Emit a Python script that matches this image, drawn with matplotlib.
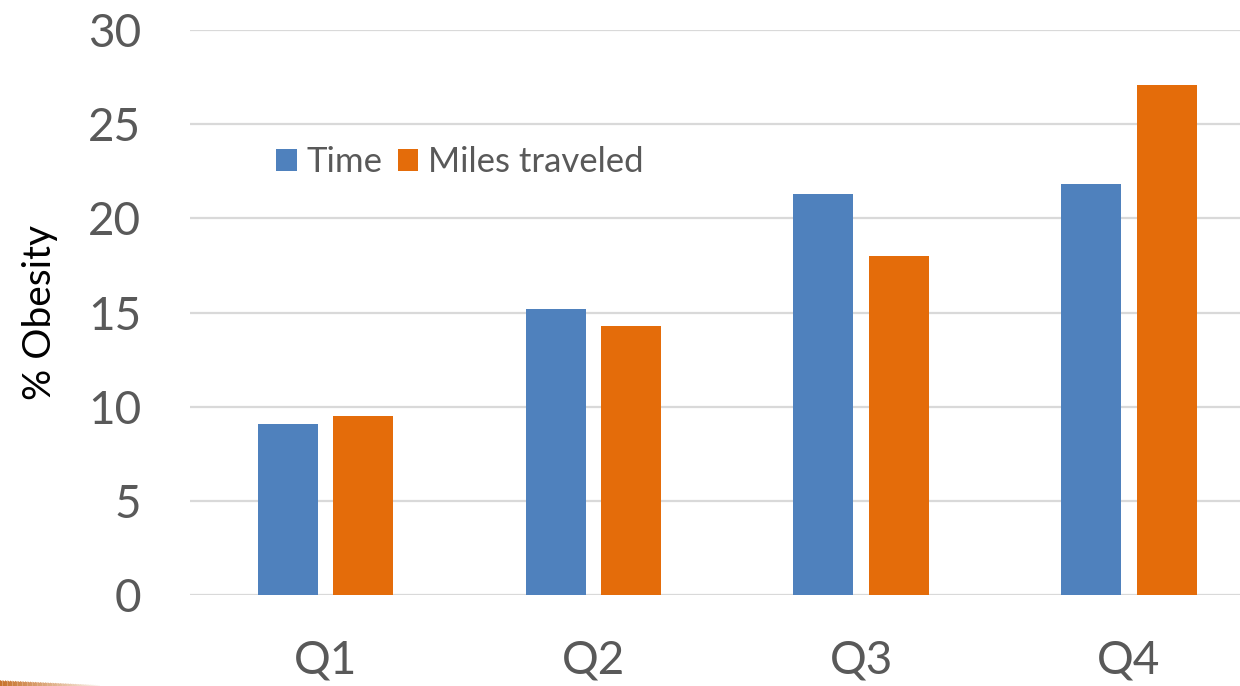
import matplotlib
matplotlib.use("Agg")
import matplotlib.pyplot as plt
import numpy as np
from matplotlib.patches import Polygon

# Obesity share by quartile of commute time / miles traveled
categories = ["Q1", "Q2", "Q3", "Q4"]
time_vals = [9.1, 15.2, 21.3, 21.8]
miles_vals = [9.5, 14.3, 18.0, 27.1]
series_names = ["Time", "Miles traveled"]
y_ticks = [0, 5, 10, 15, 20, 25, 30]

blue = "#4F81BD"
orange = "#E46C0A"
grid_c = "#D9D9D9"
tick_c = "#595959"

plt.rcParams["font.family"] = ["Lato", "DejaVu Sans"]

fig = plt.figure(figsize=(12.4, 6.86), dpi=100)
ax = fig.add_axes([190 / 1240, 91 / 686, 1050 / 1240, 565 / 686])

x = np.arange(len(categories))
w = 0.224
off = 0.141
ax.bar(x - off, time_vals, width=w, color=blue, label=series_names[0], zorder=3)
ax.bar(x + off, miles_vals, width=w, color=orange, label=series_names[1], zorder=3)

ax.set_xlim(-0.506, 3.415)
ax.set_ylim(0, 30)
ax.set_yticks(y_ticks)
ax.set_xticks(x)
ax.set_xticklabels(categories)
ax.yaxis.grid(True, color=grid_c, linewidth=1.6, zorder=0)
ax.set_axisbelow(True)
for s in ax.spines.values():
    s.set_visible(False)
ax.tick_params(axis="both", length=0, labelsize=33, labelcolor=tick_c)
ax.tick_params(axis="y", pad=35)
ax.tick_params(axis="x", pad=32)
ax.set_ylabel("% Obesity", fontsize=28, color="black", labelpad=22)

leg = ax.legend(loc="center left", bbox_to_anchor=(259 / 1240, 1 - 162 / 686),
                bbox_transform=fig.transFigure, frameon=False, ncol=2,
                fontsize=25, handlelength=0.58, handleheight=0.58,
                handletextpad=0.28, columnspacing=0.45, borderpad=0,
                labelcolor=tick_c)

# decorative swoosh in the lower-left corner
n = 40
xs = np.linspace(0, 100 / 1240, n + 1)
for i in range(n):
    x0, x1 = xs[i], xs[i + 1]
    a = max(0.0, 1 - i / n) ** 0.8
    poly = Polygon([[x0, 0], [x1, 0], [x1, 1 - (686 - 4 * (1 - x1 * 12.4)) / 686 + 0.001],
                    [x0, 1 - (680 + 5 * (x0 * 12.4)) / 686]],
                   closed=True, transform=fig.transFigure, facecolor="#C8742E",
                   edgecolor="none", alpha=a)
    fig.patches.append(poly)

fig.savefig("out.png", dpi=100)
